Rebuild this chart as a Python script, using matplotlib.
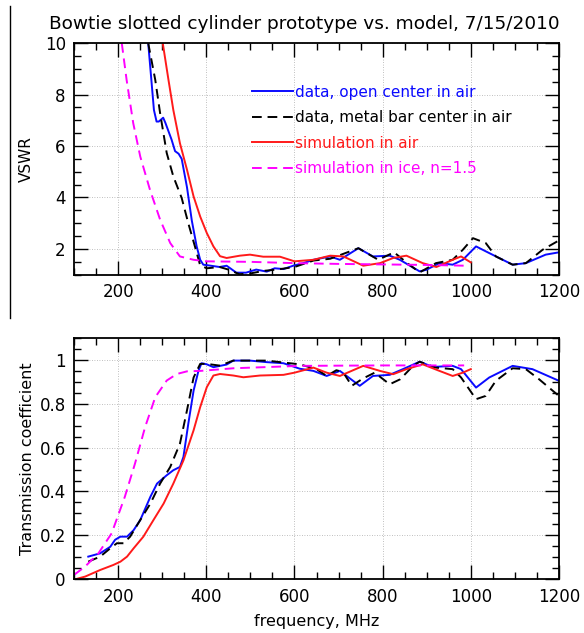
import numpy as np
import matplotlib
matplotlib.use("Agg")
import matplotlib.pyplot as plt
from matplotlib.lines import Line2D
from matplotlib.ticker import MultipleLocator

plt.rcParams['font.family'] = ['DejaVu Sans']

title = "Bowtie slotted cylinder prototype vs. model, 7/15/2010"
labels = ["data, open center in air", "data, metal bar center in air",
          "simulation in air", "simulation in ice, n=1.5"]

# ---- VSWR (top panel) ----
f_open = [268, 281, 287, 292, 302, 307, 321, 329, 337, 344, 356, 367, 378, 386, 393,
          410, 430, 446, 468, 490, 513, 537, 555, 575, 597, 620, 643, 681, 703, 745,
          778, 816, 839, 884, 899, 929, 959, 982, 1012, 1042, 1095, 1125, 1170, 1200]
v_open = [10, 7.4, 6.95, 6.95, 7.1, 6.9, 6.25, 5.8, 5.7, 5.5, 4.4, 3.1, 2.1, 1.58, 1.39,
          1.35, 1.3, 1.35, 1.08, 1.08, 1.2, 1.12, 1.25, 1.22, 1.35, 1.45, 1.58, 1.71, 1.58, 2.03,
          1.71, 1.74, 1.58, 1.13, 1.19, 1.45, 1.39, 1.58, 2.1, 1.84, 1.39, 1.45, 1.78, 1.87]

f_bar = [268, 284, 295, 310, 325, 344, 359, 374, 386, 401, 430, 450, 475, 500, 530,
         560, 600, 643, 681, 745, 790, 826, 856, 884, 921, 959, 982, 1005, 1034,
         1057, 1095, 1125, 1163, 1200]
v_bar = [10, 8.57, 7.28, 5.73, 4.82, 3.98, 3.0, 2.1, 1.36, 1.25, 1.3, 1.2, 1.02, 1.05, 1.15,
         1.2, 1.3, 1.55, 1.62, 2.03, 1.58, 1.87, 1.45, 1.09, 1.45, 1.58, 1.97, 2.42, 2.23,
         1.71, 1.39, 1.45, 1.97, 2.33]

f_sim = [301, 314, 325, 340, 356, 371, 386, 401, 416, 431, 446, 476, 499, 529, 567,
         600, 643, 681, 711, 756, 794, 824, 854, 891, 922, 959, 978, 1000]
v_sim = [10, 8.57, 7.4, 6.11, 5.08, 4.04, 3.26, 2.62, 2.1, 1.72, 1.65, 1.74, 1.78, 1.7, 1.7,
         1.52, 1.58, 1.74, 1.71, 1.35, 1.45, 1.65, 1.74, 1.45, 1.30, 1.58, 1.71, 1.48]

f_ice = [208, 219, 234, 250, 272, 295, 318, 340, 371, 401, 500, 600, 700, 800, 900, 990]
v_ice = [10, 8.57, 6.89, 5.59, 4.3, 3.14, 2.23, 1.71, 1.58, 1.52, 1.5, 1.45, 1.42, 1.4, 1.38, 1.35]

# ---- Transmission coefficient (bottom panel) ----
tf_open = [132, 159, 182, 193, 205, 220, 235, 250, 273, 288, 310, 325, 340, 348, 359, 371,
           382, 389, 401, 416, 446, 461, 499, 537, 575, 612, 643, 673, 703, 748, 778, 816,
           846, 884, 914, 959, 978, 1012, 1042, 1095, 1140, 1200]
t_open = [0.103, 0.118, 0.148, 0.18, 0.194, 0.194, 0.224, 0.27, 0.376, 0.436, 0.474, 0.497,
          0.512, 0.558, 0.709, 0.86, 0.95, 0.985, 0.98, 0.967, 0.979, 0.997, 0.997, 0.99,
          0.985, 0.96, 0.95, 0.927, 0.95, 0.882, 0.927, 0.932, 0.958, 0.992, 0.968, 0.973,
          0.958, 0.874, 0.92, 0.973, 0.958, 0.905]

tf_bar = [132, 159, 182, 197, 212, 227, 250, 273, 295, 318, 340, 356, 371, 386, 401, 431,
          461, 537, 612, 650, 673, 695, 710, 730, 755, 782, 816, 840, 869, 884, 921, 959,
          978, 1012, 1034, 1057, 1095, 1125, 1155, 1200]
t_bar = [0.08, 0.103, 0.141, 0.164, 0.164, 0.194, 0.27, 0.345, 0.436, 0.512, 0.618, 0.77,
         0.92, 0.982, 0.982, 0.974, 0.997, 0.997, 0.98, 0.958, 0.927, 0.953, 0.945, 0.882,
         0.915, 0.942, 0.889, 0.912, 0.973, 0.992, 0.965, 0.958, 0.92, 0.821, 0.836, 0.905,
         0.962, 0.958, 0.912, 0.836]

tf_sim = [103, 125, 159, 189, 205, 220, 235, 257, 280, 303, 325, 348, 371, 386, 401, 416,
          431, 461, 484, 522, 575, 600, 643, 673, 703, 756, 794, 824, 854, 891, 929, 959,
          982, 1000]
t_sim = [0.0, 0.012, 0.042, 0.065, 0.08, 0.103, 0.141, 0.194, 0.27, 0.345, 0.436, 0.542,
         0.679, 0.785, 0.876, 0.929, 0.936, 0.929, 0.921, 0.929, 0.932, 0.942, 0.965, 0.942,
         0.927, 0.973, 0.95, 0.935, 0.958, 0.98, 0.95, 0.927, 0.942, 0.958]

tf_ice = [100, 125, 155, 185, 215, 238, 261, 284, 310, 333, 356, 386, 461, 612, 800, 985]
t_ice = [0.02, 0.058, 0.118, 0.209, 0.376, 0.527, 0.694, 0.83, 0.906, 0.936, 0.948, 0.95,
         0.962, 0.973, 0.975, 0.975]

styles = [dict(color='#0a0aff', ls='-'),
          dict(color='black', ls=(0, (5, 3))),
          dict(color='#ff1a1a', ls='-'),
          dict(color='#ff00ff', ls=(0, (5, 3)))]

fig = plt.figure(figsize=(5.84, 6.33), dpi=100)
ax1 = fig.add_axes([0.127, 0.566, 0.830, 0.366])
ax2 = fig.add_axes([0.127, 0.085, 0.830, 0.381])


def style_axes(ax):
    ax.set_xlim(100, 1200)
    ax.xaxis.set_major_locator(MultipleLocator(200))
    ax.xaxis.set_minor_locator(MultipleLocator(50))
    ax.tick_params(which='both', direction='in', top=True, right=True, labelsize=12,
                   width=1.0, pad=6)
    ax.tick_params(which='major', length=10)
    ax.tick_params(which='minor', length=5)
    ax.grid(True, which='major', ls=(0, (1, 2)), color='#aaaaaa', lw=0.6)
    for s in ax.spines.values():
        s.set_linewidth(1.3)


series_top = [(f_open, v_open), (f_bar, v_bar), (f_sim, v_sim), (f_ice, v_ice)]
for (x, y), st, lab in zip(series_top, styles, labels):
    ax1.plot(x, y, lw=1.4, label=lab, **st)
style_axes(ax1)
ax1.set_ylim(1, 10)
ax1.yaxis.set_major_locator(MultipleLocator(2))
ax1.yaxis.set_minor_locator(MultipleLocator(0.5))
ax1.set_ylabel("VSWR", fontsize=11, labelpad=8)
ax1.set_title(title, fontsize=13.3, pad=10, x=0.475)
ax1.legend(loc='upper left', bbox_to_anchor=(0.367, 0.82), frameon=False, fontsize=11,
           handlelength=2.7, handletextpad=0.1, borderpad=0, borderaxespad=0,
           labelspacing=0.68, labelcolor='linecolor')

series_bot = [(tf_open, t_open), (tf_bar, t_bar), (tf_sim, t_sim), (tf_ice, t_ice)]
for (x, y), st in zip(series_bot, styles):
    ax2.plot(x, y, lw=1.4, **st)
style_axes(ax2)
ax2.set_ylim(0, 1.1)
ax2.yaxis.set_major_locator(MultipleLocator(0.2))
ax2.yaxis.set_minor_locator(MultipleLocator(0.05))
ax2.set_yticks([0, 0.2, 0.4, 0.6, 0.8, 1.0])
ax2.set_yticklabels(["0", "0.2", "0.4", "0.6", "0.8", "1"])
ax2.set_ylabel("Transmission coefficient", fontsize=11.5, labelpad=3)
ax2.set_xlabel("frequency, MHz", fontsize=11.5, labelpad=6)

fig.add_artist(Line2D([0.017, 0.017], [0.497, 0.99], color='black', lw=1.0))

fig.savefig("out.png", dpi=100)
